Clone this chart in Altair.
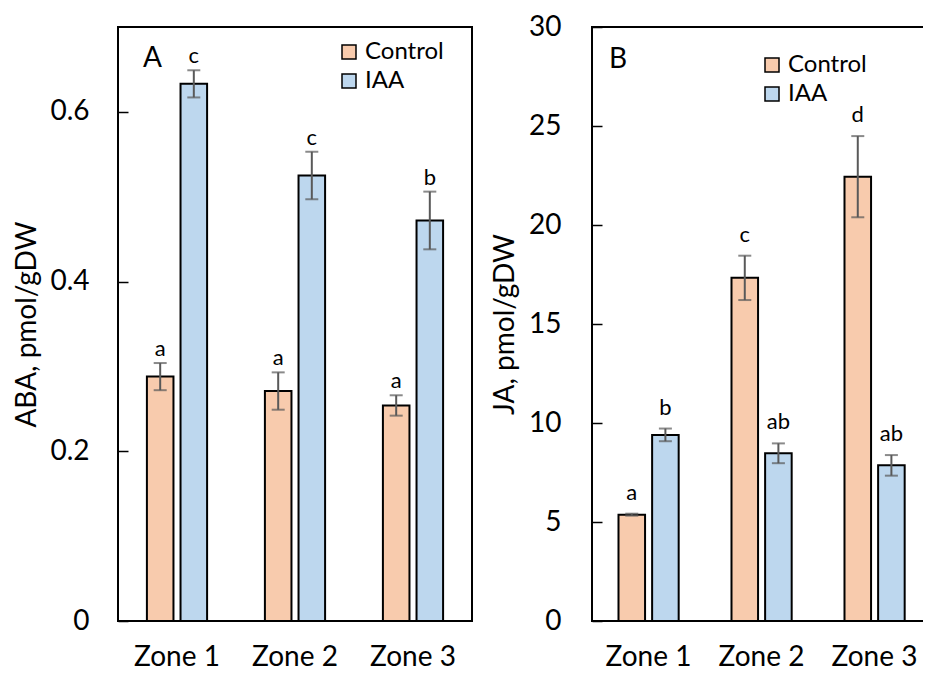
import altair as alt
import pandas as pd

zones = ["Zone 1", "Zone 2", "Zone 3"]
treatments = ["Control", "IAA"]

aba_control = [0.288, 0.271, 0.254]
aba_control_err = [0.016, 0.022, 0.012]
aba_iaa = [0.633, 0.525, 0.472]
aba_iaa_err = [0.016, 0.028, 0.034]
aba_letters_control = ["a", "a", "a"]
aba_letters_iaa = ["c", "c", "b"]

ja_control = [5.37, 17.33, 22.44]
ja_control_err = [0.05, 1.12, 2.05]
ja_iaa = [9.40, 8.47, 7.86]
ja_iaa_err = [0.32, 0.50, 0.52]
ja_letters_control = ["a", "c", "d"]
ja_letters_iaa = ["b", "ab", "ab"]

aba_ticks = [0, 0.2, 0.4, 0.6]
ja_ticks = [0, 5, 10, 15, 20, 25, 30]

FONT = "Lato"
COLORS = ["#F8CBAD", "#BDD7EE"]
ERR = "#595959"
H = 594


def make_df(ctrl, ctrl_err, iaa, iaa_err, lc, li):
    rows = []
    for i, z in enumerate(zones):
        rows.append(dict(zone=z, treatment="Control", value=ctrl[i], err=ctrl_err[i], letter=lc[i]))
        rows.append(dict(zone=z, treatment="IAA", value=iaa[i], err=iaa_err[i], letter=li[i]))
    df = pd.DataFrame(rows)
    df["lo"] = df["value"] - df["err"]
    df["hi"] = df["value"] + df["err"]
    return df


def panel(df, ymax, yvals, ytitle, width, pad_inner, letter, letter_x, letter_y,
          legend_x, legend_y, label_pad, title_pad, letter_dy):
    x = alt.X("zone:N", sort=zones, title=None,
              scale=alt.Scale(paddingInner=pad_inner, paddingOuter=pad_inner / 2),
              axis=alt.Axis(ticks=False, domain=False, labelPadding=22,
                            labelFontSize=28, labelFont=FONT, labelAngle=0,
                            labelColor="black"))
    xo = alt.XOffset("treatment:N", sort=treatments,
                     scale=alt.Scale(paddingInner=0.21, paddingOuter=0))
    yscale = alt.Scale(domain=[0, ymax], nice=False)
    yaxis = alt.Axis(values=yvals, format="~g", offset=-10, tickSize=10,
                     domain=False, grid=False, labelPadding=label_pad,
                     titlePadding=title_pad, labelFontSize=28,
                     labelFont=FONT, titleFont=FONT, titleFontSize=28,
                     titleFontWeight="normal", labelColor="black",
                     titleColor="black", tickColor="black", tickWidth=1.5)

    def Y(field):
        return alt.Y(field, scale=yscale, title=ytitle, axis=yaxis)

    base = alt.Chart(df)
    bars = base.mark_bar(stroke="black", strokeWidth=2).encode(
        x=x, xOffset=xo, y=Y("value:Q"),
        color=alt.Color("treatment:N", sort=treatments,
                        scale=alt.Scale(domain=treatments, range=COLORS),
                        legend=alt.Legend(orient="none", legendX=legend_x, legendY=legend_y,
                                          title=None, symbolType="square", symbolSize=196,
                                          symbolStrokeColor="black", symbolStrokeWidth=1.5,
                                          labelFontSize=24, labelFont=FONT, labelColor="black",
                                          rowPadding=5, labelOffset=4)),
    )
    rules = base.mark_rule(color=ERR, strokeWidth=2).encode(
        x=x, xOffset=xo, y=Y("lo:Q"), y2="hi:Q")
    cap_lo = base.mark_tick(color=ERR, thickness=2, size=13).encode(
        x=x, xOffset=xo, y=Y("lo:Q"))
    cap_hi = base.mark_tick(color=ERR, thickness=2, size=13).encode(
        x=x, xOffset=xo, y=Y("hi:Q"))
    letters = base.mark_text(baseline="alphabetic", dy=letter_dy, fontSize=22, font=FONT,
                             color="black").encode(
        x=x, xOffset=xo, y=Y("hi:Q"), text="letter:N")
    tag = alt.Chart(pd.DataFrame({"t": [letter]})).mark_text(
        align="left", baseline="middle", fontSize=28, font=FONT, color="black").encode(
        x=alt.value(letter_x), y=alt.value(letter_y), text="t:N")
    return alt.layer(bars, rules, cap_lo, cap_hi, letters, tag).properties(
        width=width, height=H)


aba_df = make_df(aba_control, aba_control_err, aba_iaa, aba_iaa_err,
                 aba_letters_control, aba_letters_iaa)
ja_df = make_df(ja_control, ja_control_err, ja_iaa, ja_iaa_err,
                ja_letters_control, ja_letters_iaa)

pA = panel(aba_df, 0.7, aba_ticks, "ABA, pmol/gDW", 354, 0.49, "A", 25, 32,
           219, 13, 29, 8, -7)
pB = panel(ja_df, 30, ja_ticks, "JA, pmol/gDW", 339, 0.469, "B", 17, 33,
           168, 26, 31, 9, -14)

PL, PT = 110, 19
chart = alt.hconcat(pA, pB, spacing=17).resolve_scale(color="independent").configure_view(
    stroke="black", strokeWidth=2).properties(
    autosize=alt.AutoSizeParams(type="none"),
    padding={"left": PL, "top": PT, "right": 915 - PL, "bottom": 658 - PT},
    background="white")

chart.save("out.html", embed_options={"renderer": "svg", "actions": False})
